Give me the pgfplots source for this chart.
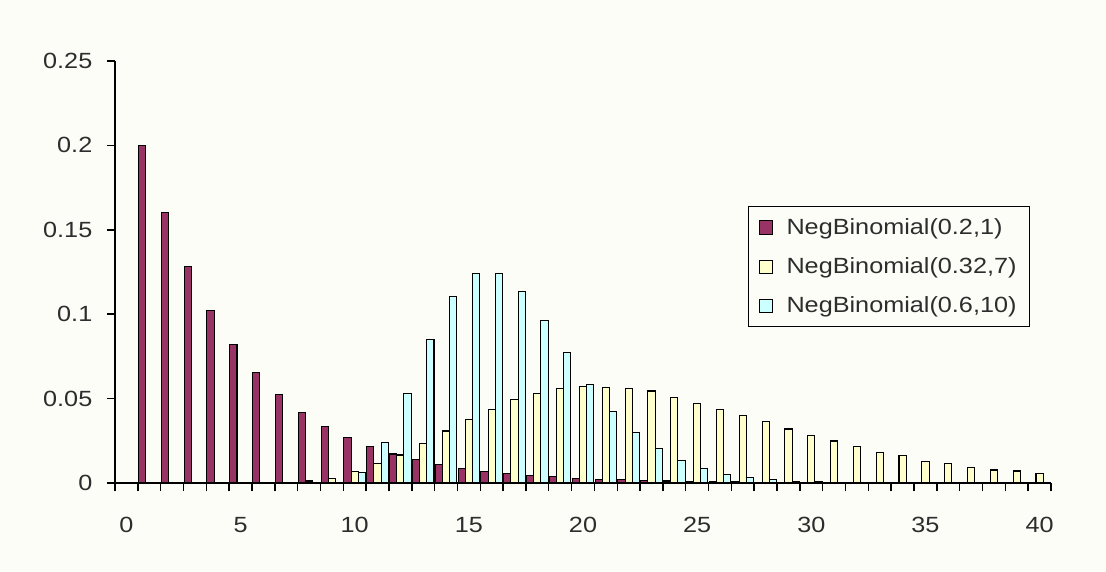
\documentclass[border=0pt]{standalone}
\usepackage{fontspec}
\setmainfont[FakeStretch=1.147]{Liberation Sans}
\usepackage{pgfplots}
\pgfplotsset{compat=1.18}
\definecolor{bg}{RGB}{253,253,248}
\definecolor{plum}{HTML}{993366}
\definecolor{ivory}{HTML}{FFFFCC}
\definecolor{turq}{HTML}{CCFFFF}
\definecolor{txt}{RGB}{45,45,45}
\begin{document}
\begin{tikzpicture}
\fill[bg] (0pt,0pt) rectangle (829.5pt,428.25pt);
\begin{axis}[
  at={(86.25pt,66pt)}, anchor=south west,
  scale only axis, width=702pt, height=316.5pt,
  xmin=-0.5, xmax=40.5, ymin=0, ymax=0.25,
  axis x line=bottom, axis y line=left,
  axis line style={-, line width=1.1pt, black},
  tick align=outside,
  major tick length=6pt,
  tick style={line width=1.1pt, black},
  xtick={-0.5,0.5,...,40.5}, xticklabels={},
  extra x ticks={0,5,10,15,20,25,30,35,40},
  extra x tick labels={0,5,10,15,20,25,30,35,40},
  extra x tick style={major tick length=0pt},
  ytick={0,0.05,0.1,0.15,0.2,0.25},
  yticklabels={0,0.05,0.1,0.15,0.2,0.25},
  scaled y ticks=false,
  ticklabel style={font=\fontsize{16.5}{18}\selectfont, text=txt},
  xticklabel style={yshift=-22pt},
  yticklabel style={xshift=-7.5pt},
  ybar=0pt, bar width=0.315,
  legend style={at={(0.6763,0.6564)}, anchor=north west, draw=black, line width=0.75pt,
    fill=bg, inner xsep=8pt, inner ysep=7pt, row sep=12pt, column sep=8pt,
    font=\fontsize{16.5}{18}\selectfont, text=txt, cells={anchor=west}},
  legend image code/.code={\draw[#1, draw=black, line width=0.75pt] (0pt,-4.9pt) rectangle (9.75pt,4.9pt);},
]
\addplot[fill=plum, draw=black, line width=0.8pt] coordinates {
(1,0.2) (2,0.16) (3,0.128) (4,0.1024) (5,0.08192) (6,0.065536) (7,0.052429) (8,0.041943) (9,0.033554) (10,0.026844)
(11,0.021475) (12,0.01718) (13,0.013744) (14,0.010995) (15,0.008796) (16,0.007037) (17,0.005629) (18,0.004504) (19,0.003603) (20,0.002882)
(21,0.002306) (22,0.001845) (23,0.001476) (24,0.001181) (25,0.000944) (26,0.000756) (27,0.000604) (28,0.000484) (29,0.000387) (30,0.00031)
(31,0.000248) (32,0.000198) (33,0.000158) (34,0.000127) (35,0.000101) (36,0.000081) (37,0.000065) (38,0.000052) (39,0.000042) (40,0.000033)
};
\addplot[fill=ivory, draw=black, line width=0.8pt] coordinates {
(7,0.0003) (8,0.0012) (9,0.0026) (10,0.0067) (11,0.0113) (12,0.0166) (13,0.0235) (14,0.0308) (15,0.0377) (16,0.0436)
(17,0.0496) (18,0.0531) (19,0.0561) (20,0.0569) (21,0.0567) (22,0.0561) (23,0.0545) (24,0.0508) (25,0.0472) (26,0.0438)
(27,0.0399) (28,0.0363) (29,0.0320) (30,0.0282) (31,0.0249) (32,0.0215) (33,0.0180) (34,0.0162) (35,0.0130) (36,0.0117)
(37,0.0093) (38,0.0077) (39,0.0071) (40,0.0057)
};
\addplot[fill=turq, draw=black, line width=0.8pt] coordinates {
(10,0.0060) (11,0.0242) (12,0.0532) (13,0.0851) (14,0.1107) (15,0.1240) (16,0.1240) (17,0.1133) (18,0.0963) (19,0.0771)
(20,0.0586) (21,0.0426) (22,0.0298) (23,0.0202) (24,0.0133) (25,0.0085) (26,0.0053) (27,0.0032) (28,0.0019) (29,0.0011)
(30,0.0007) (31,0.0004) (32,0.0002) (33,0.0001) (34,0.00005) (35,0.00003) (36,0.00002) (37,0.00001) (38,0.00001) (39,0.00001) (40,0.00001)
};
\legend{{NegBinomial(0.2,1)},{NegBinomial(0.32,7)},{NegBinomial(0.6,10)}}
\end{axis}
\end{tikzpicture}
\end{document}
